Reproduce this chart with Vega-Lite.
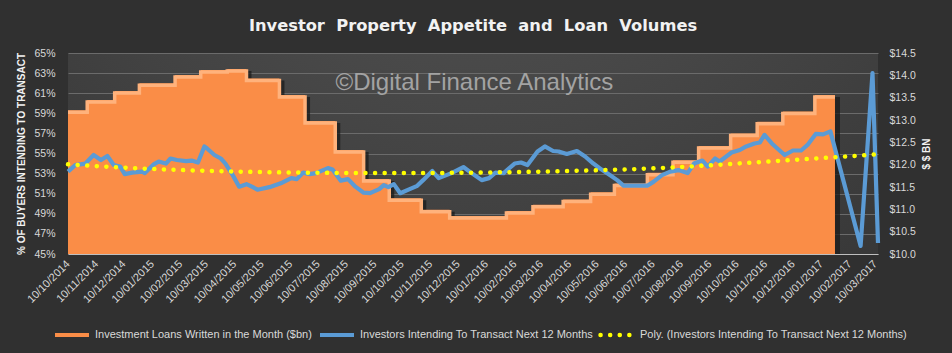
{
  "$schema": "https://vega.github.io/schema/vega-lite/v6.json",
  "width": 810,
  "height": 201,
  "autosize": {"type": "none"},
  "padding": {"left": 68, "top": 53, "right": 74, "bottom": 99},
  "background": "#303030",
  "title": {
    "text": "Investor\u00a0 Property\u00a0 Appetite\u00a0 and\u00a0 Loan\u00a0 Volumes",
    "font": "DejaVu Sans",
    "fontSize": 16.3,
    "fontWeight": "bold",
    "color": "#f2f2f2",
    "anchor": "middle",
    "offset": 14
  },
  "config": {
    "view": {
      "stroke": null,
      "fill": {
        "gradient": "radial",
        "x1": 0.5, "y1": 0.0, "r1": 0,
        "x2": 0.5, "y2": 0.0, "r2": 0.8,
        "stops": [
          {"offset": 0, "color": "#595959"},
          {"offset": 1, "color": "#383838"}
        ]
      }
    },
    "axisX": {"labelOverlap": false, "labelFlush": false, "labelBound": false},
    "axisTemporal": {"labelOverlap": false},
    "font": "Liberation Sans"
  },
  "datasets": {
    "loans": [
      {"date": "2014-10-10", "bn": 13.22},
      {"date": "2014-10-31", "bn": 13.45},
      {"date": "2014-11-30", "bn": 13.65},
      {"date": "2014-12-27", "bn": 13.82},
      {"date": "2015-02-04", "bn": 14.01},
      {"date": "2015-03-04", "bn": 14.12},
      {"date": "2015-04-02", "bn": 14.14},
      {"date": "2015-04-23", "bn": 13.93},
      {"date": "2015-05-29", "bn": 13.56},
      {"date": "2015-06-26", "bn": 12.98},
      {"date": "2015-07-29", "bn": 12.33},
      {"date": "2015-08-29", "bn": 11.68},
      {"date": "2015-09-26", "bn": 11.25},
      {"date": "2015-10-31", "bn": 10.99},
      {"date": "2015-12-01", "bn": 10.85},
      {"date": "2016-02-01", "bn": 10.96},
      {"date": "2016-03-01", "bn": 11.10},
      {"date": "2016-04-03", "bn": 11.22},
      {"date": "2016-05-03", "bn": 11.38},
      {"date": "2016-05-29", "bn": 11.58},
      {"date": "2016-07-04", "bn": 11.82},
      {"date": "2016-08-01", "bn": 12.10},
      {"date": "2016-08-29", "bn": 12.42},
      {"date": "2016-10-03", "bn": 12.70},
      {"date": "2016-11-01", "bn": 12.96},
      {"date": "2016-11-29", "bn": 13.19},
      {"date": "2017-01-03", "bn": 13.56},
      {"date": "2017-01-25", "bn": 13.56}
    ],
    "intent": [
      {"date": "2014-10-10", "pct": 53.2},
      {"date": "2014-10-18", "pct": 53.85},
      {"date": "2014-10-29", "pct": 54.0},
      {"date": "2014-11-07", "pct": 54.85},
      {"date": "2014-11-15", "pct": 54.35},
      {"date": "2014-11-22", "pct": 54.75},
      {"date": "2014-11-29", "pct": 53.85},
      {"date": "2014-12-06", "pct": 53.7},
      {"date": "2014-12-11", "pct": 52.95},
      {"date": "2014-12-19", "pct": 53.1},
      {"date": "2014-12-30", "pct": 53.2},
      {"date": "2015-01-02", "pct": 53.05},
      {"date": "2015-01-12", "pct": 53.95},
      {"date": "2015-01-17", "pct": 54.2},
      {"date": "2015-01-25", "pct": 54.0},
      {"date": "2015-01-30", "pct": 54.5},
      {"date": "2015-02-06", "pct": 54.35},
      {"date": "2015-02-16", "pct": 54.25},
      {"date": "2015-02-22", "pct": 54.3},
      {"date": "2015-03-01", "pct": 54.1},
      {"date": "2015-03-08", "pct": 55.7},
      {"date": "2015-03-11", "pct": 55.5},
      {"date": "2015-03-19", "pct": 54.85},
      {"date": "2015-03-26", "pct": 54.5},
      {"date": "2015-03-31", "pct": 54.0},
      {"date": "2015-04-08", "pct": 52.85},
      {"date": "2015-04-15", "pct": 51.7},
      {"date": "2015-04-23", "pct": 51.95},
      {"date": "2015-04-30", "pct": 51.65},
      {"date": "2015-05-05", "pct": 51.4},
      {"date": "2015-05-18", "pct": 51.65},
      {"date": "2015-06-01", "pct": 52.1},
      {"date": "2015-06-11", "pct": 52.55},
      {"date": "2015-06-17", "pct": 52.45},
      {"date": "2015-06-24", "pct": 53.1},
      {"date": "2015-07-01", "pct": 52.95},
      {"date": "2015-07-08", "pct": 53.05},
      {"date": "2015-07-21", "pct": 53.55},
      {"date": "2015-07-26", "pct": 53.4},
      {"date": "2015-08-04", "pct": 52.3},
      {"date": "2015-08-12", "pct": 52.45},
      {"date": "2015-08-20", "pct": 51.7},
      {"date": "2015-08-29", "pct": 51.1},
      {"date": "2015-09-05", "pct": 51.05},
      {"date": "2015-09-15", "pct": 51.45},
      {"date": "2015-09-20", "pct": 51.85},
      {"date": "2015-09-25", "pct": 51.65},
      {"date": "2015-10-01", "pct": 51.95},
      {"date": "2015-10-08", "pct": 51.05},
      {"date": "2015-10-17", "pct": 51.4},
      {"date": "2015-10-26", "pct": 51.75},
      {"date": "2015-11-02", "pct": 52.35},
      {"date": "2015-11-12", "pct": 53.25},
      {"date": "2015-11-19", "pct": 52.55},
      {"date": "2015-12-03", "pct": 53.05},
      {"date": "2015-12-16", "pct": 53.65},
      {"date": "2015-12-25", "pct": 53.05},
      {"date": "2016-01-05", "pct": 52.35},
      {"date": "2016-01-13", "pct": 52.55},
      {"date": "2016-01-20", "pct": 53.1},
      {"date": "2016-01-29", "pct": 53.05},
      {"date": "2016-02-10", "pct": 54.0},
      {"date": "2016-02-17", "pct": 54.1},
      {"date": "2016-02-24", "pct": 53.85},
      {"date": "2016-03-06", "pct": 55.2},
      {"date": "2016-03-14", "pct": 55.7},
      {"date": "2016-03-23", "pct": 55.25},
      {"date": "2016-03-29", "pct": 55.2},
      {"date": "2016-04-07", "pct": 54.95},
      {"date": "2016-04-18", "pct": 55.25},
      {"date": "2016-04-27", "pct": 54.7},
      {"date": "2016-05-06", "pct": 54.0},
      {"date": "2016-05-15", "pct": 53.4},
      {"date": "2016-05-24", "pct": 52.85},
      {"date": "2016-06-01", "pct": 52.35},
      {"date": "2016-06-08", "pct": 51.8},
      {"date": "2016-06-27", "pct": 51.8},
      {"date": "2016-07-04", "pct": 51.8},
      {"date": "2016-07-11", "pct": 52.2},
      {"date": "2016-07-20", "pct": 52.85},
      {"date": "2016-07-29", "pct": 53.2},
      {"date": "2016-08-07", "pct": 53.35},
      {"date": "2016-08-17", "pct": 53.05},
      {"date": "2016-08-24", "pct": 54.0},
      {"date": "2016-09-02", "pct": 54.3},
      {"date": "2016-09-08", "pct": 53.7},
      {"date": "2016-09-16", "pct": 54.5},
      {"date": "2016-09-21", "pct": 54.2},
      {"date": "2016-10-04", "pct": 55.1},
      {"date": "2016-10-13", "pct": 55.35},
      {"date": "2016-10-20", "pct": 55.7},
      {"date": "2016-10-29", "pct": 56.0},
      {"date": "2016-11-04", "pct": 56.1},
      {"date": "2016-11-09", "pct": 56.85},
      {"date": "2016-11-17", "pct": 56.0},
      {"date": "2016-12-01", "pct": 54.85},
      {"date": "2016-12-10", "pct": 55.3},
      {"date": "2016-12-19", "pct": 55.3},
      {"date": "2016-12-26", "pct": 55.85},
      {"date": "2017-01-04", "pct": 56.95},
      {"date": "2017-01-12", "pct": 56.9},
      {"date": "2017-01-20", "pct": 57.2},
      {"date": "2017-02-22", "pct": 45.8},
      {"date": "2017-03-07", "pct": 63.0},
      {"date": "2017-03-13", "pct": 46.1}
    ],
    "trend": [
      {"date": "2014-10-10", "pct": 53.92},
      {"date": "2014-11-10", "pct": 53.74},
      {"date": "2014-12-10", "pct": 53.6},
      {"date": "2015-01-10", "pct": 53.46},
      {"date": "2015-02-10", "pct": 53.36},
      {"date": "2015-03-10", "pct": 53.28},
      {"date": "2015-04-10", "pct": 53.21},
      {"date": "2015-05-10", "pct": 53.15},
      {"date": "2015-06-10", "pct": 53.11},
      {"date": "2015-07-10", "pct": 53.08},
      {"date": "2015-08-10", "pct": 53.06},
      {"date": "2015-09-10", "pct": 53.05},
      {"date": "2015-10-10", "pct": 53.05},
      {"date": "2015-11-10", "pct": 53.06},
      {"date": "2015-12-10", "pct": 53.08},
      {"date": "2016-01-10", "pct": 53.11},
      {"date": "2016-02-10", "pct": 53.15},
      {"date": "2016-03-10", "pct": 53.2},
      {"date": "2016-04-10", "pct": 53.26},
      {"date": "2016-05-10", "pct": 53.33},
      {"date": "2016-06-10", "pct": 53.41},
      {"date": "2016-07-10", "pct": 53.52},
      {"date": "2016-08-10", "pct": 53.66},
      {"date": "2016-09-10", "pct": 53.82},
      {"date": "2016-10-10", "pct": 54.0},
      {"date": "2016-11-10", "pct": 54.18},
      {"date": "2016-12-10", "pct": 54.36},
      {"date": "2017-01-10", "pct": 54.54},
      {"date": "2017-02-10", "pct": 54.72},
      {"date": "2017-03-10", "pct": 54.9},
      {"date": "2017-03-13", "pct": 54.92}
    ],
    "mark": [
      {"date": "2015-12-28", "pct": 61.3, "text": "©Digital Finance Analytics"}
    ]
  },
  "encoding": {
    "x": {
      "field": "date",
      "type": "temporal",
      "scale": {"domain": [{"year": 2014, "month": 10, "date": 10}, {"year": 2017, "month": 3, "date": 13}]},
      "axis": {
        "title": null,
        "values": [
          {"year": 2014, "month": 10, "date": 10}, {"year": 2014, "month": 11, "date": 10}, {"year": 2014, "month": 12, "date": 10},
          {"year": 2015, "month": 1, "date": 10}, {"year": 2015, "month": 2, "date": 10}, {"year": 2015, "month": 3, "date": 10},
          {"year": 2015, "month": 4, "date": 10}, {"year": 2015, "month": 5, "date": 10}, {"year": 2015, "month": 6, "date": 10},
          {"year": 2015, "month": 7, "date": 10}, {"year": 2015, "month": 8, "date": 10}, {"year": 2015, "month": 9, "date": 10},
          {"year": 2015, "month": 10, "date": 10}, {"year": 2015, "month": 11, "date": 10}, {"year": 2015, "month": 12, "date": 10},
          {"year": 2016, "month": 1, "date": 10}, {"year": 2016, "month": 2, "date": 10}, {"year": 2016, "month": 3, "date": 10},
          {"year": 2016, "month": 4, "date": 10}, {"year": 2016, "month": 5, "date": 10}, {"year": 2016, "month": 6, "date": 10},
          {"year": 2016, "month": 7, "date": 10}, {"year": 2016, "month": 8, "date": 10}, {"year": 2016, "month": 9, "date": 10},
          {"year": 2016, "month": 10, "date": 10}, {"year": 2016, "month": 11, "date": 10}, {"year": 2016, "month": 12, "date": 10},
          {"year": 2017, "month": 1, "date": 10}, {"year": 2017, "month": 2, "date": 10}, {"year": 2017, "month": 3, "date": 10}
        ],
        "format": "%d/%m/%Y",
        "labelAngle": -45,
        "labelAlign": "right",
        "labelBaseline": "middle",
        "labelFont": "Liberation Sans",
        "labelFontSize": 11,
        "labelColor": "#d9d9d9",
        "labelPadding": 8,
        "labelFlush": false,
        "labelOverlap": false,
        "labelBound": false,
        "labelSeparation": 0,
        "ticks": false,
        "grid": false,
        "domainColor": "#bfbfbf",
        "domainWidth": 1,
        "zindex": 1
      }
    }
  },
  "layer": [
    {
      "data": {"name": "loans"},
      "mark": {"type": "area", "interpolate": "step-after", "color": "#1c1c1c", "opacity": 0.75, "xOffset": 5, "yOffset": 2, "clip": true},
      "encoding": {
        "y": {"field": "bn", "type": "quantitative", "scale": {"domain": [10, 14.5], "zero": false, "nice": false}, "axis": null}
      }
    },
    {
      "data": {"name": "loans"},
      "mark": {"type": "area", "interpolate": "step-after", "opacity": 1, "clip": true},
      "encoding": {
        "y": {
          "field": "bn",
          "type": "quantitative",
          "scale": {"domain": [10, 14.5], "zero": false, "nice": false},
          "axis": {
            "orient": "right",
            "values": [10, 10.5, 11, 11.5, 12, 12.5, 13, 13.5, 14, 14.5],
            "format": "$.1f",
            "title": "$ $ BN",
            "titleAngle": 270,
            "titleBaseline": "top",
            "titleFont": "Liberation Sans",
            "titleFontSize": 10,
            "titleFontWeight": "bold",
            "titleColor": "#f2f2f2",
            "titlePadding": 6,
            "labelFont": "Liberation Sans",
            "labelFontSize": 10.5,
            "labelColor": "#d9d9d9",
            "labelPadding": 11,
            "ticks": false,
            "domain": false,
            "grid": false
          }
        },
        "color": {
          "datum": "Investment Loans Written in the Month ($bn)",
          "type": "nominal",
          "scale": {
            "domain": ["Investment Loans Written in the Month ($bn)", "Investors Intending To Transact Next 12 Months"],
            "range": ["#fa8d47", "#5b9bd5"]
          },
          "legend": {
            "title": null,
            "orient": "none",
            "legendX": -15,
            "legendY": 263,
            "direction": "horizontal",
            "symbolType": "stroke",
            "symbolSize": 1156,
            "symbolStrokeWidth": 4,
            "labelFont": "Liberation Sans",
            "labelFontSize": 11,
            "labelColor": "#d9d9d9",
            "labelOffset": 4,
            "labelLimit": 400,
            "columnPadding": 0,
            "encode": {
              "symbols": {
                "update": {
                  "strokeWidth": {"signal": "indexOf(datum.value, 'Investment') == 0 ? 7 : 4.5"}
                }
              }
            }
          }
        }
      }
    },
    {
      "data": {"name": "loans"},
      "mark": {"type": "line", "interpolate": "step-after", "color": "#ffb27c", "strokeWidth": 3.5, "yOffset": 2},
      "encoding": {
        "y": {"field": "bn", "type": "quantitative", "scale": {"domain": [10, 14.5], "zero": false, "nice": false}, "axis": null}
      }
    },
    {
      "data": {"name": "intent"},
      "mark": {"type": "line", "strokeWidth": 4.2, "strokeJoin": "round"},
      "encoding": {
        "y": {
          "field": "pct",
          "type": "quantitative",
          "scale": {"domain": [45, 65], "zero": false, "nice": false},
          "axis": {
            "orient": "left",
            "values": [45, 47, 49, 51, 53, 55, 57, 59, 61, 63, 65],
            "labelExpr": "datum.value + '%'",
            "title": "% OF BUYERS INTENDING TO TRANSACT",
            "titleFont": "Liberation Sans",
            "titleFontSize": 10,
            "titleFontWeight": "bold",
            "titleColor": "#f2f2f2",
            "titlePadding": 7,
            "labelFont": "Liberation Sans",
            "labelFontSize": 10.5,
            "labelColor": "#d9d9d9",
            "labelPadding": 13,
            "ticks": false,
            "domain": false,
            "grid": true,
            "gridColor": "#6b6b6b",
            "gridWidth": 1
          }
        },
        "color": {"datum": "Investors Intending To Transact Next 12 Months", "type": "nominal"}
      }
    },
    {
      "data": {"name": "trend"},
      "mark": {"type": "line", "interpolate": "monotone", "color": "#ffff00", "strokeWidth": 4.5, "strokeCap": "round"},
      "encoding": {
        "y": {"field": "pct", "type": "quantitative", "scale": {"domain": [45, 65], "zero": false, "nice": false}, "axis": null},
        "strokeDash": {
          "datum": "Poly. (Investors Intending To Transact Next 12 Months)",
          "type": "nominal",
          "scale": {"domain": ["Poly. (Investors Intending To Transact Next 12 Months)"], "range": [[0.1, 9.5]]},
          "legend": {
            "title": null,
            "orient": "none",
            "legendX": 530,
            "legendY": 263,
            "direction": "horizontal",
            "symbolType": "stroke",
            "symbolSize": 1089,
            "symbolStrokeColor": "#ffff00",
            "symbolStrokeWidth": 4.5,
            "labelFont": "Liberation Sans",
            "labelFontSize": 11,
            "labelColor": "#d9d9d9",
            "labelOffset": 4,
            "labelLimit": 400,
            "encode": {
              "symbols": {
                "update": {
                  "strokeCap": {"value": "round"},
                  "stroke": {"value": "#ffff00"},
                  "strokeDash": {"value": [0.1, 10.3]}
                }
              }
            }
          }
        }
      }
    },
    {
      "data": {"name": "mark"},
      "mark": {"type": "text", "font": "Liberation Sans", "fontSize": 24, "color": "#a3a3a3", "align": "center", "baseline": "alphabetic"},
      "encoding": {
        "y": {"field": "pct", "type": "quantitative", "scale": {"domain": [45, 65], "zero": false, "nice": false}, "axis": null},
        "text": {"field": "text"}
      }
    }
  ],
  "resolve": {"scale": {"y": "independent"}}
}
